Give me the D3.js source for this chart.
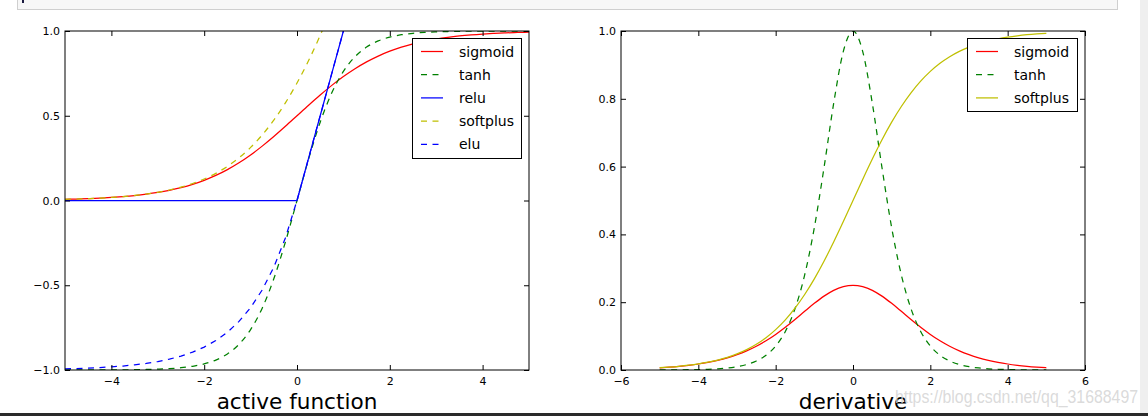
<!DOCTYPE html>
<html>
<head>
<meta charset="utf-8">
<script src="https://cdn.jsdelivr.net/npm/d3@7"></script>
<style>
html,body{margin:0;padding:0;background:#fff;}
svg{display:block;}
</style>
</head>
<body>
<svg id="chart" width="1148" height="416"></svg>
<script>
// ---- data ----
const xs = [-5,-4.75,-4.5,-4.25,-4,-3.75,-3.5,-3.25,-3,-2.75,-2.5,-2.25,-2,-1.75,-1.5,-1.25,-1,-0.75,-0.5,-0.25,0,
            0.25,0.5,0.75,1,1.25,1.5,1.75,2,2.25,2.5,2.75,3,3.25,3.5,3.75,4,4.25,4.5,4.75,5];
const sigmoid = [0.0067,0.0086,0.0110,0.0141,0.0180,0.0230,0.0293,0.0373,0.0474,0.0601,0.0759,0.0953,0.1192,0.1480,0.1824,0.2227,0.2689,0.3208,0.3775,0.4378,0.5,
                 0.5622,0.6225,0.6792,0.7311,0.7773,0.8176,0.8520,0.8808,0.9047,0.9241,0.9399,0.9526,0.9627,0.9707,0.9770,0.9820,0.9859,0.9890,0.9914,0.9933];
const tanh = [-0.9999,-0.9999,-0.9998,-0.9996,-0.9993,-0.9989,-0.9982,-0.9970,-0.9951,-0.9919,-0.9866,-0.9780,-0.9640,-0.9414,-0.9051,-0.8483,-0.7616,-0.6351,-0.4621,-0.2449,0,
              0.2449,0.4621,0.6351,0.7616,0.8483,0.9051,0.9414,0.9640,0.9780,0.9866,0.9919,0.9951,0.9970,0.9982,0.9989,0.9993,0.9996,0.9998,0.9999,0.9999];
const relu = [0,0,0,0,0,0,0,0,0,0,0,0,0,0,0,0,0,0,0,0,0,
              0.25,0.5,0.75,1,1.25,1.5,1.75,2,2.25,2.5,2.75,3,3.25,3.5,3.75,4,4.25,4.5,4.75,5];
const softplus = [0.0067,0.0086,0.0110,0.0141,0.0181,0.0232,0.0298,0.0380,0.0486,0.0620,0.0789,0.1002,0.1269,0.1602,0.2014,0.2519,0.3133,0.3868,0.4741,0.5759,0.6931,
                  0.8259,0.9741,1.1368,1.3133,1.5019,1.7014,1.9102,2.1269,2.3502,2.5789,2.8120,3.0486,3.2880,3.5298,3.7732,4.0181,4.2641,4.5110,4.7586,5.0067];
const elu = [-0.9933,-0.9913,-0.9889,-0.9857,-0.9817,-0.9765,-0.9698,-0.9612,-0.9502,-0.9361,-0.9179,-0.8946,-0.8647,-0.8262,-0.7769,-0.7135,-0.6321,-0.5276,-0.3935,-0.2212,0,
             0.25,0.5,0.75,1,1.25,1.5,1.75,2,2.25,2.5,2.75,3,3.25,3.5,3.75,4,4.25,4.5,4.75,5];
const sigmoidDeriv = [0.0066,0.0085,0.0109,0.0139,0.0177,0.0225,0.0285,0.0359,0.0452,0.0565,0.0701,0.0862,0.1050,0.1261,0.1491,0.1731,0.1966,0.2179,0.2350,0.2461,0.25,
                      0.2461,0.2350,0.2179,0.1966,0.1731,0.1491,0.1261,0.1050,0.0862,0.0701,0.0565,0.0452,0.0359,0.0285,0.0225,0.0177,0.0139,0.0109,0.0085,0.0066];
const tanhDeriv = [0.0002,0.0003,0.0005,0.0008,0.0013,0.0022,0.0036,0.0060,0.0099,0.0162,0.0266,0.0435,0.0707,0.1138,0.1807,0.2804,0.4200,0.5966,0.7864,0.9400,1.0,
                   0.9400,0.7864,0.5966,0.4200,0.2804,0.1807,0.1138,0.0707,0.0435,0.0266,0.0162,0.0099,0.0060,0.0036,0.0022,0.0013,0.0008,0.0005,0.0003,0.0002];
const softplusDeriv = [0.0067,0.0086,0.0110,0.0141,0.0180,0.0230,0.0293,0.0373,0.0474,0.0601,0.0759,0.0953,0.1192,0.1480,0.1824,0.2227,0.2689,0.3208,0.3775,0.4378,0.5,
                       0.5622,0.6225,0.6792,0.7311,0.7773,0.8176,0.8520,0.8808,0.9047,0.9241,0.9399,0.9526,0.9627,0.9707,0.9770,0.9820,0.9859,0.9890,0.9914,0.9933];

const leftSeriesNames = ["sigmoid","tanh","relu","softplus","elu"];
const rightSeriesNames = ["sigmoid","tanh","softplus"];
const leftXTicks = [-4,-2,0,2,4];
const leftYTicks = [-1,-0.5,0,0.5,1];
const rightXTicks = [-6,-4,-2,0,2,4,6];
const rightYTicks = [0,0.2,0.4,0.6,0.8,1.0];
const leftTitle = "active function";
const rightTitle = "derivative";
const watermark = "https://blog.csdn.net/qq_31688497";

// ---- drawing ----
const svg = d3.select("#chart");
const FONT = "DejaVu Sans, sans-serif";
const colors = {red:"#ff0000", green:"#008000", blue:"#0000ff", yellow:"#bfbf00"};
const DASH = "6,5.5";

// page chrome
svg.append("rect").attr("x",17.5).attr("y",-1).attr("width",1100).attr("height",10.5)
  .attr("fill","#f7f7f7").attr("stroke","#cfcfcf");
svg.append("rect").attr("x",22).attr("y",0).attr("width",2).attr("height",3).attr("fill","#1a1a40");
svg.append("rect").attr("x",1140).attr("y",0).attr("width",8).attr("height",413).attr("fill","#efefef");
svg.append("rect").attr("x",0).attr("y",413).attr("width",1148).attr("height",3).attr("fill","#2a2a2a");

function panel(opts) {
  const {x, y, xTicks, yTicks, xFmt, yFmt, series, legend, title, id} = opts;
  const [x0,x1] = x.range(), [y0,y1] = y.range();
  const g = svg.append("g");
  g.append("clipPath").attr("id",id).append("rect")
    .attr("x",x0).attr("y",y1).attr("width",x1-x0).attr("height",y0-y1);

  const lg = g.append("g").attr("clip-path",`url(#${id})`);
  series.forEach(s => {
    const line = d3.line().x((d,i)=>x(xs[i])).y(d=>y(d))
      .curve(s.linear ? d3.curveLinear : d3.curveMonotoneX);
    lg.append("path").datum(s.values).attr("d",line)
      .attr("fill","none").attr("stroke",s.color).attr("stroke-width",1.25)
      .attr("stroke-dasharray", s.dash ? DASH : null);
  });

  // axes (ticks inward on all sides)
  const styleAxis = sel => {
    sel.select(".domain").remove();
    sel.selectAll(".tick line").attr("stroke","#000").attr("stroke-width",1);
    sel.selectAll(".tick text").attr("font-family",FONT).attr("font-size",11).attr("fill","#000");
  };
  g.append("g").attr("transform",`translate(0,${y0})`)
    .call(d3.axisBottom(x).tickValues(xTicks).tickFormat(xFmt).tickSizeInner(-5).tickSizeOuter(0).tickPadding(7))
    .call(styleAxis);
  g.append("g").attr("transform",`translate(0,${y1})`)
    .call(d3.axisTop(x).tickValues(xTicks).tickFormat("").tickSizeInner(-5).tickSizeOuter(0))
    .call(styleAxis);
  g.append("g").attr("transform",`translate(${x0},0)`)
    .call(d3.axisLeft(y).tickValues(yTicks).tickFormat(yFmt).tickSizeInner(-5).tickSizeOuter(0).tickPadding(5))
    .call(styleAxis);
  g.append("g").attr("transform",`translate(${x1},0)`)
    .call(d3.axisRight(y).tickValues(yTicks).tickFormat("").tickSizeInner(-5).tickSizeOuter(0))
    .call(styleAxis);

  // frame
  g.append("rect").attr("x",x0).attr("y",y1).attr("width",x1-x0).attr("height",y0-y1)
    .attr("fill","none").attr("stroke","#000").attr("stroke-width",1);

  // legend
  const lgd = g.append("g");
  lgd.append("rect").attr("x",legend.x+0.5).attr("y",legend.y+0.5)
    .attr("width",legend.w).attr("height",legend.h)
    .attr("fill","#fff").attr("stroke","#000").attr("stroke-width",1);
  series.forEach((s,i) => {
    const cy = legend.y + 13.5 + i*23.2;
    lgd.append("line").attr("x1",legend.x+9).attr("x2",legend.x+31)
      .attr("y1",cy).attr("y2",cy)
      .attr("stroke",s.color).attr("stroke-width",1.25)
      .attr("stroke-dasharray", s.dash ? DASH : null);
    lgd.append("text").attr("x",legend.x+47).attr("y",cy+5)
      .attr("font-family",FONT).attr("font-size",14).attr("fill","#000").text(s.name);
  });

  // title
  g.append("text").attr("x",(x0+x1)/2).attr("y",409).attr("text-anchor","middle")
    .attr("font-family",FONT).attr("font-size",21.6).attr("fill","#000").text(title);
}

const xL = d3.scaleLinear().domain([-5,5]).range([65,529]);
const yL = d3.scaleLinear().domain([-1,1]).range([370,31]);
const xR = d3.scaleLinear().domain([-6,6]).range([621,1085]);
const yR = d3.scaleLinear().domain([0,1]).range([370,31]);

panel({
  id:"clipL", x:xL, y:yL, xTicks:leftXTicks, yTicks:leftYTicks,
  xFmt:d3.format("d"), yFmt:d3.format(".1f"),
  series:[
    {name:leftSeriesNames[0], values:sigmoid, color:colors.red, dash:false},
    {name:leftSeriesNames[1], values:tanh, color:colors.green, dash:true},
    {name:leftSeriesNames[2], values:relu, color:colors.blue, dash:false, linear:true},
    {name:leftSeriesNames[3], values:softplus, color:colors.yellow, dash:true},
    {name:leftSeriesNames[4], values:elu, color:colors.blue, dash:true, linear:true}
  ],
  legend:{x:412, y:38, w:109, h:120},
  title:leftTitle
});

panel({
  id:"clipR", x:xR, y:yR, xTicks:rightXTicks, yTicks:rightYTicks,
  xFmt:d3.format("d"), yFmt:d3.format(".1f"),
  series:[
    {name:rightSeriesNames[0], values:sigmoidDeriv, color:colors.red, dash:false},
    {name:rightSeriesNames[1], values:tanhDeriv, color:colors.green, dash:true},
    {name:rightSeriesNames[2], values:softplusDeriv, color:colors.yellow, dash:false}
  ],
  legend:{x:967, y:38, w:110, h:73},
  title:rightTitle
});

// watermark
svg.append("text").attr("x",895).attr("y",403)
  .attr("font-family","Liberation Sans, Arial, sans-serif").attr("font-size",18)
  .attr("fill","#d6d6d6").attr("fill-opacity",0.9)
  .attr("textLength",243).attr("lengthAdjust","spacingAndGlyphs")
  .text(watermark);
</script>
</body>
</html>
